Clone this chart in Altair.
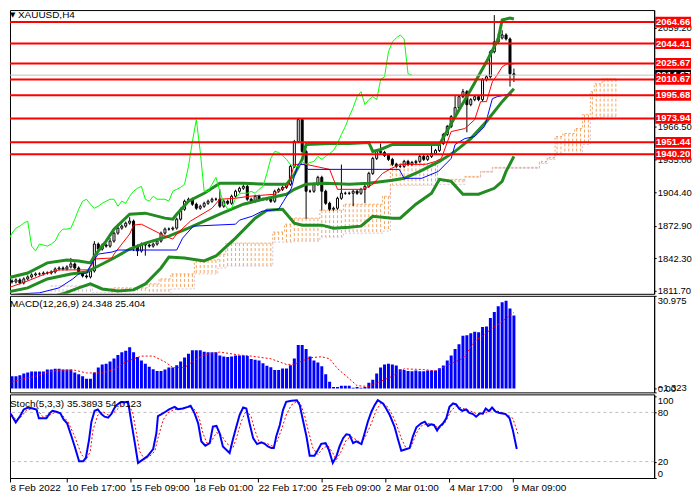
import altair as alt
import pandas as pd

# ---------------- axis / label data ----------------
date_ticks = [1.75, 16, 32, 48, 64, 80, 96, 112, 128]
date_labels = ["8 Feb 2022", "10 Feb 17:00", "15 Feb 09:00", "18 Feb 01:00", "22 Feb 17:00",
               "25 Feb 09:00", "2 Mar 01:00", "4 Mar 17:00", "9 Mar 09:00"]
price_ticks = [2059.20, 1966.50, 1935.00, 1904.40, 1872.90, 1842.30, 1811.70]
levels = [2064.66, 2044.41, 2025.67, 2010.67, 1995.68, 1973.94, 1951.44, 1940.20]
bid_price = 2014.67

# ---------------- candles (H4 bars, index 0..129) ----------------
closes = [
    1821.0, 1820.1, 1822.0, 1819.2, 1822.9, 1824.8, 1826.7, 1827.6, 1827.6, 1828.5,
    1828.5, 1829.5, 1832.3, 1833.2, 1832.3, 1834.2, 1837.0, 1833.2, 1828.5, 1825.7,
    1824.8, 1830.4, 1855.7, 1851.0, 1854.8, 1853.8, 1858.5, 1866.0, 1870.7, 1872.6,
    1875.4, 1877.3, 1853.8, 1849.2, 1855.7, 1854.8, 1853.8, 1855.7, 1858.5, 1866.0,
    1869.8, 1869.8, 1870.7, 1879.1, 1888.5, 1896.0, 1897.9, 1893.2, 1889.4, 1891.3,
    1894.1, 1896.0, 1897.9, 1897.9, 1891.3, 1896.0, 1894.1, 1900.7, 1905.4, 1908.2,
    1910.0, 1897.9, 1896.0, 1900.7, 1897.9, 1897.9, 1897.9, 1896.0, 1905.4, 1907.2,
    1909.1, 1911.9, 1928.8, 1952.2, 1972.8, 1942.9, 1905.4, 1905.4, 1911.9, 1918.5,
    1905.4, 1894.1, 1888.5, 1889.4, 1898.8, 1903.5, 1903.5, 1903.5, 1905.4, 1903.5,
    1907.2, 1910.0, 1922.2, 1936.3, 1942.9, 1941.9, 1939.1, 1935.4, 1930.7, 1928.8,
    1928.8, 1933.5, 1930.7, 1932.5, 1933.5, 1938.2, 1935.4, 1938.2, 1941.0, 1943.8,
    1950.3, 1958.8, 1966.3, 1975.6, 1984.1, 1994.4, 1999.1, 1986.9, 1991.6, 1994.4,
    1991.6, 2010.3, 2013.1, 2036.6, 2045.9, 2049.7, 2052.5, 2048.7, 2015.9, 2014.7,
]
first_open = 1822.0
wick_default = 1.5
wick_up = {16: 5.6, 22: 2.8, 26: 3.0, 31: 3.7, 54: 9.4, 60: 2.0, 74: 1.7, 85: 27.0,
           95: 7.4, 108: 8.4, 114: 12.0, 116: 2.6, 124: 25.3, 125: 4.0, 126: 4.5, 129: 5.0}
wick_dn = {32: 4.6, 33: 4.7, 35: 10.0, 76: 26.0, 80: 18.0, 88: 12.0, 91: 13.0,
           117: 26.0, 128: 12.0, 129: 6.5}

# ---------------- Bollinger bands ----------------
bb_up_bar = [0, 5, 10, 15, 18, 21, 22, 25, 27, 31, 35, 40, 42, 43, 46, 50, 54, 60, 66, 71,
             73, 75, 76, 82, 87, 92, 93, 95, 98, 102, 110, 114, 118, 122, 125, 126, 128, 129]
bb_up = [1823.9, 1828.5, 1838.0, 1840.7, 1839.8, 1838.0, 1844.5, 1858.5, 1869.8, 1883.8,
         1884.8, 1880.1, 1879.1, 1883.8, 1896.0, 1903.5, 1912.9, 1912.9, 1911.9, 1911.9,
         1921.3, 1935.4, 1949.4, 1950.3, 1950.3, 1951.3, 1942.9, 1944.7, 1949.4, 1949.4,
         1949.4, 1975.6, 2001.0, 2027.2, 2048.7, 2066.5, 2068.4, 2067.5]
bb_mid_bar = [0, 5, 10, 16, 20, 22, 27, 31, 35, 41, 46, 54, 60, 65, 71, 73, 76, 81, 87, 92,
              98, 101, 105, 110, 114, 118, 122, 126, 129]
bb_mid = [1810.7, 1814.5, 1822.9, 1827.6, 1829.5, 1833.2, 1842.6, 1851.0, 1856.6, 1863.2,
          1870.7, 1883.8, 1893.2, 1897.9, 1902.6, 1907.2, 1911.9, 1912.9, 1911.9, 1912.9,
          1915.7, 1917.6, 1924.1, 1933.5, 1942.9, 1955.0, 1971.0, 1989.7, 2001.9]
bb_low_bar = [0, 7, 14, 18, 21, 24, 28, 32, 35, 39, 41, 45, 50, 53, 58, 63, 66, 70, 73, 75,
              80, 83, 87, 90, 93, 98, 100, 104, 108, 110, 113, 116, 120, 124, 126, 127, 129]
bb_low = [1797.6, 1802.3, 1808.9, 1814.5, 1818.2, 1813.5, 1811.6, 1812.6, 1818.2, 1833.2,
          1843.5, 1842.6, 1839.8, 1844.5, 1861.3, 1880.1, 1887.6, 1888.5, 1875.4, 1873.5,
          1873.5, 1870.7, 1871.6, 1872.6, 1881.9, 1880.1, 1880.1, 1893.2, 1903.5, 1916.6,
          1914.7, 1902.6, 1902.6, 1908.2, 1914.7, 1924.1, 1938.2]

# ---------------- Ichimoku ----------------
tenkan_bar = [0, 5, 10, 13, 20.5, 21.5, 22, 26.5, 27, 31, 32, 34, 40, 42, 43, 46.5, 52, 54, 58,
              61.5, 68, 69, 71.5, 73, 76, 82, 84, 90.5, 93, 95.5, 97.75, 100, 106.5, 109, 110.5,
              113, 116.5, 119, 120.5, 122, 123.5, 124.75, 126, 127.25, 129]
tenkan = [1814.5, 1821.0, 1828.5, 1831.4, 1831.4, 1837.0, 1841.7, 1842.6, 1846.3, 1865.1,
          1873.5, 1874.4, 1863.2, 1860.4, 1865.1, 1877.3, 1889.4, 1897.9, 1898.8, 1900.7,
          1902.6, 1905.4, 1911.0, 1930.7, 1930.7, 1926.0, 1907.2, 1907.2, 1911.9, 1922.2,
          1926.9, 1930.7, 1930.7, 1933.5, 1936.3, 1961.6, 1964.4, 1972.8, 1989.7, 1989.7,
          2008.4, 2015.0, 2022.5, 2025.3, 2025.3]
kijun_bar = [0, 3, 8, 13, 16.5, 18, 20.25, 20.5, 21.75, 23, 26.5, 28, 43, 44.5, 47.25, 58, 59,
             62.25, 64.75, 69, 70.25, 72.25, 73, 74, 75.5, 76.5, 99.75, 101, 105.5, 109.75, 113,
             114, 116.5, 119, 119.75, 121.5, 122.25, 123.5, 124.75, 127.25, 128.5]
kijun = [1807.9, 1808.9, 1809.8, 1814.5, 1822.9, 1827.6, 1828.5, 1832.3, 1839.8, 1846.3,
         1848.2, 1850.1, 1850.1, 1861.3, 1872.6, 1874.4, 1878.2, 1881.9, 1886.6, 1888.5,
         1896.0, 1908.2, 1919.4, 1930.7, 1930.7, 1926.0, 1926.0, 1917.6, 1917.6, 1924.1,
         1936.3, 1949.4, 1955.0, 1956.9, 1959.7, 1966.3, 1975.6, 1992.5, 1994.4, 1996.3, 1996.3]
chikou_shift = 26
cloud_start = [11, 22, 27, 36, 39, 42, 48, 54, 56, 68, 71, 73, 80, 86, 96, 98, 110, 117, 121,
               124, 136, 138, 140, 142, 145, 147, 149, 150, 152]
cloud_end = [21, 26, 35, 38, 41, 47, 53, 55, 67, 70, 72, 79, 85, 95, 97, 109, 116, 120, 123,
             135, 137, 139, 141, 144, 146, 148, 149, 151, 155]
span_a = [1806.0, 1807.9, 1814.5, 1818.2, 1822.9, 1827.6, 1840.7, 1846.3, 1856.6, 1867.0,
          1874.4, 1880.1, 1887.6, 1893.2, 1900.7, 1931.6, 1916.6, 1919.4, 1924.1, 1927.9,
          1933.5, 1937.2, 1956.9, 1959.7, 1964.4, 1977.5, 1999.1, 2006.6, 2011.3]
span_b = [1816.4, 1809.8, 1805.1, 1806.0, 1807.9, 1813.5, 1827.6, 1833.2, 1835.1, 1857.6,
          1857.6, 1858.5, 1862.3, 1866.0, 1867.9, 1911.0, 1911.9, 1918.5, 1923.2, 1926.9,
          1931.6, 1935.4, 1940.0, 1940.0, 1941.0, 1949.4, 1972.8, 1974.7, 1975.6]

# ---------------- MACD ----------------
macd = [
    4.06, 4.06, 4.06, 4.40, 4.96, 5.30, 5.64, 5.64, 5.64, 5.64,
    6.31, 6.31, 6.54, 6.54, 6.31, 6.31, 6.31, 5.30, 4.73, 4.06,
    3.27, 3.27, 5.30, 6.99, 8.00, 8.23, 9.02, 10.03, 11.16, 12.06,
    12.62, 13.75, 12.06, 10.48, 9.35, 8.23, 7.21, 6.42, 5.86, 5.86,
    6.31, 6.99, 6.99, 7.78, 9.02, 10.37, 11.61, 12.74, 12.74, 12.74,
    12.28, 12.06, 12.06, 12.06, 11.04, 10.71, 10.48, 10.71, 11.04, 11.04,
    11.04, 10.82, 9.80, 9.58, 9.35, 8.45, 7.55, 7.10, 6.20, 6.20,
    6.65, 6.65, 7.78, 10.03, 14.54, 14.54, 13.19, 10.71, 9.35, 8.68,
    7.44, 4.73, 2.25, 0.45, 0.45, 0.90, 0.90, 0.90, 0.23, 0.45,
    0.23, 0.45, 1.92, 2.93, 4.96, 6.99, 8.00, 8.23, 8.00, 7.66,
    6.42, 6.20, 5.86, 5.75, 5.97, 5.75, 5.75, 5.97, 5.97, 5.97,
    6.76, 7.66, 9.35, 11.04, 13.19, 14.76, 17.58, 17.81, 18.48, 18.93,
    18.82, 20.51, 20.74, 23.55, 25.58, 27.50, 28.85, 29.30, 26.71, 24.35,
]
signal_bar = [0, 3, 7, 10, 13, 17, 20, 24, 27, 30, 34, 37, 40, 42, 45, 47, 50, 54, 59, 62, 67,
              71, 73, 77, 80, 82, 84, 87, 89, 92, 94, 98, 101, 106, 109, 113, 116, 119, 123, 126, 129]
signal = [1.80, 2.93, 4.06, 5.41, 6.09, 6.09, 5.18, 5.18, 6.31, 8.90, 10.82, 10.82, 8.90, 6.99,
          6.99, 8.90, 11.16, 12.17, 11.16, 10.82, 9.92, 8.00, 8.11, 10.26, 10.59, 9.92, 6.65,
          3.27, 0.90, 0.68, 1.80, 4.06, 6.54, 6.31, 5.86, 8.34, 10.03, 15.67, 19.61, 22.43, 25.40]
macd_ticks = [30.975, 0, -1.323]

# ---------------- Stochastic ----------------
k_bar = [0, 1.3, 2.1, 3.2, 4.2, 5.2, 6.3, 7.5, 8.4, 9.0, 10.9, 11.7, 12.4, 13.4, 14.4, 15.2, 16.1,
         17.2, 18.0, 19.1, 20.1, 20.8, 21.6, 22.2, 23.0, 23.8, 24.7, 25.5, 26.4, 27.2, 27.9, 28.5,
         29.5, 30.5, 31.4, 32.2, 33.1, 33.9, 35.1, 36.4, 37.7, 38.5, 38.9, 39.7, 40.8, 41.7, 43.1,
         43.9, 45.2, 46.4, 47.1, 48.1, 49.0, 49.8, 50.8, 51.9, 52.7, 53.6, 54.4, 55.2, 56.9, 57.7,
         58.6, 59.4, 60.3, 61.1, 61.9, 62.8, 63.8, 64.9, 65.7, 66.5, 67.4, 68.0, 68.6, 69.5, 70.3,
         71.1, 72.4, 73.8, 74.5, 75.3, 76.2, 77.0, 78.2, 79.1, 79.9, 81.0, 81.8, 82.8, 83.7, 84.5,
         85.4, 86.2, 87.0, 87.9, 88.7, 90.0, 90.8, 91.6, 92.5, 93.3, 94.1, 95.4, 96.2, 97.1, 98.3,
         99.2, 100.0, 101.3, 102.1, 102.9, 103.8, 105.0, 105.9, 106.7, 107.5, 108.2, 109.0, 109.6,
         110.5, 111.3, 112.1, 113.0, 113.8, 114.5, 115.3, 116.3, 117.0, 118.0, 118.8, 119.7, 120.5,
         121.2, 122.0, 122.8, 123.7, 124.5, 125.4, 126.2, 127.2, 128.0, 129.0]
k_val = [88.9, 82.8, 76.8, 67.9, 74.8, 83.6, 86.0, 84.8, 83.6, 72.8, 72.8, 78.8, 82.0, 80.8, 78.8,
         71.5, 66.7, 50.6, 38.5, 20.4, 20.4, 24.4, 46.6, 68.7, 82.0, 83.6, 78.0, 74.8, 73.6, 78.0,
         84.8, 88.9, 92.5, 92.5, 92.9, 68.7, 42.5, 18.4, 22.4, 27.2, 35.3, 54.6, 75.6, 77.6, 80.8,
         83.6, 86.8, 84.0, 84.8, 86.8, 88.1, 78.8, 66.7, 44.6, 39.3, 42.5, 62.7, 63.5, 54.6, 38.5,
         30.5, 46.6, 62.7, 76.8, 86.0, 84.8, 66.7, 48.6, 41.3, 43.4, 41.7, 38.5, 36.5, 36.5, 50.6,
         64.7, 82.8, 92.9, 94.1, 94.9, 88.9, 70.7, 50.6, 27.2, 27.2, 34.5, 41.7, 42.5, 34.5, 18.4,
         26.4, 38.5, 48.6, 53.4, 52.6, 42.5, 44.6, 41.3, 54.6, 68.7, 80.8, 88.9, 94.9, 90.9, 84.8,
         76.8, 62.7, 46.6, 33.3, 35.3, 36.5, 50.6, 61.9, 66.7, 68.7, 63.5, 65.5, 64.7, 57.9, 62.7,
         66.7, 72.8, 86.8, 90.9, 89.7, 84.8, 82.0, 83.6, 79.6, 78.0, 74.8, 78.8, 78.8, 84.8, 81.6,
         86.0, 80.8, 79.6, 78.8, 78.0, 72.8, 58.7, 35.4]
d_bar = [0, 1.7, 3.3, 4.6, 5.9, 7.5, 8.8, 10.0, 11.7, 13.4, 14.6, 16.3, 18.0, 19.7, 20.9, 21.9,
         22.6, 23.8, 25.1, 26.4, 27.6, 28.9, 30.1, 31.4, 32.6, 33.5, 34.3, 35.6, 36.8, 38.1, 38.9,
         40.2, 41.4, 42.7, 44.4, 46.0, 47.3, 48.4, 49.4, 50.2, 51.2, 52.3, 53.6, 54.8, 56.1, 57.7,
         58.6, 59.8, 61.1, 62.3, 63.2, 64.4, 66.1, 67.8, 68.8, 69.9, 71.1, 72.4, 73.6, 74.6, 75.7,
         76.6, 77.8, 79.1, 80.3, 81.6, 82.8, 83.7, 84.9, 86.2, 87.4, 88.7, 90.0, 91.2, 92.5, 93.7,
         95.0, 96.2, 97.5, 98.7, 100.0, 101.3, 102.5, 103.8, 105.0, 106.7, 108.4, 109.6, 110.9,
         112.6, 113.8, 115.5, 117.2, 118.8, 120.5, 122.2, 123.8, 125.5, 126.8, 128.0, 129.3]
d_val = [87.3, 80.8, 70.7, 74.8, 82.8, 84.8, 82.0, 74.8, 76.8, 80.8, 78.0, 68.7, 50.6, 28.5, 22.4,
         32.5, 58.7, 76.8, 80.8, 76.8, 78.8, 84.8, 90.1, 91.7, 78.8, 54.6, 32.5, 22.4, 26.4, 32.5,
         48.6, 70.7, 79.6, 82.8, 84.8, 86.0, 86.8, 82.0, 70.7, 54.6, 42.5, 44.6, 55.4, 52.6, 42.5,
         36.5, 48.6, 68.7, 82.8, 74.8, 58.7, 42.5, 42.5, 38.5, 44.6, 58.7, 76.8, 88.9, 92.9, 91.7,
         76.8, 58.7, 36.5, 28.4, 36.5, 39.3, 30.5, 22.4, 32.5, 46.6, 50.6, 46.6, 42.5, 52.6, 66.7,
         82.8, 91.7, 88.9, 79.6, 66.7, 48.6, 35.3, 38.5, 54.6, 63.5, 66.7, 63.5, 60.7, 66.7, 82.8,
         87.7, 84.8, 82.0, 78.8, 78.0, 82.0, 82.0, 79.6, 76.8, 72.8, 54.0]
stoch_levels = [20, 80]
stoch_ticks = [0, 20, 80, 100]

# ---------------- tables ----------------
n = len(closes)
bars = list(range(n))
opens = [first_open] + closes[:-1]
highs = [max(o, c) + wick_up.get(i, wick_default) for i, (o, c) in enumerate(zip(opens, closes))]
lows = [min(o, c) - wick_dn.get(i, wick_default) for i, (o, c) in enumerate(zip(opens, closes))]
candles = pd.DataFrame({"bar": bars, "open": opens, "close": closes, "high": highs, "low": lows})

hatch_rows = []
for s, e, a, b in zip(cloud_start, cloud_end, span_a, span_b):
    for i in range(s, e + 1):
        hatch_rows.append({"bar": i, "a": a, "b": b, "kind": "A" if a >= b else "B"})
cloud = pd.DataFrame(hatch_rows)

chikou = pd.DataFrame({"bar": [b - chikou_shift for b in bars[chikou_shift:]],
                       "price": closes[chikou_shift:]})

def line_df(xs, ys):
    return pd.DataFrame({"bar": xs, "price": ys})

lev_df = pd.DataFrame({"price": levels, "label": [f"{v:.2f}" for v in levels]})
bid_df = pd.DataFrame({"price": [bid_price], "label": [f"{bid_price:.2f}"]})
one = pd.DataFrame({"k": [0]})

FONT = "Liberation Sans"
W = 647
LBL_X = 666
xscale = alt.Scale(domain=[1.75, 163.5], nice=False, zero=False)
yscale_main = alt.Scale(domain=[1808.9, 2075.9], nice=False, zero=False)

main_axis = alt.Axis(orient="right", values=price_ticks, format=".2f", labelFlush=False,
                     tickSize=2, labelPadding=1, title=None, grid=False, labelOverlap=False,
                     labelFontSize=9.5)

def X(field="bar"):
    return alt.X(f"{field}:Q", scale=xscale, axis=None)

def Ym(field):
    return alt.Y(f"{field}:Q", scale=yscale_main, axis=main_axis)

# cloud hatch
hatch = alt.Chart(cloud).mark_rule(strokeDash=[3, 2], strokeWidth=1, clip=True).encode(
    x=X(), y=Ym("a"), y2="b:Q",
    color=alt.Color("kind:N", scale=alt.Scale(domain=["A", "B"], range=["#F4A460", "#D8BFD8"]),
                    legend=None))
line_a = alt.Chart(cloud).mark_line(interpolate="step", strokeDash=[2, 2], strokeWidth=1,
                                    color="#F4A460", clip=True).encode(x=X(), y=Ym("a"))
line_b = alt.Chart(cloud).mark_line(interpolate="step", strokeDash=[2, 2], strokeWidth=1,
                                    color="#D8BFD8", clip=True).encode(x=X(), y=Ym("b"))

wicks = alt.Chart(candles).mark_rule(color="black", strokeWidth=1, clip=True).encode(
    x=X(), y=Ym("low"), y2="high:Q")
bodies = alt.Chart(candles).mark_bar(size=2, stroke="black", strokeWidth=1, clip=True).encode(
    x=X(), y=Ym("open"), y2="close:Q",
    fill=alt.condition("datum.close >= datum.open", alt.value("white"), alt.value("black")))

def ind_line(df, color, width):
    return alt.Chart(df).mark_line(color=color, strokeWidth=width, clip=True).encode(
        x=X(), y=Ym("price"))

bbu = ind_line(line_df(bb_up_bar, bb_up), "#228B22", 3)
bbm = ind_line(line_df(bb_mid_bar, bb_mid), "#228B22", 3)
bbl = ind_line(line_df(bb_low_bar, bb_low), "#228B22", 3)
tk = ind_line(line_df(tenkan_bar, tenkan), "#FF0000", 1)
kj = ind_line(line_df(kijun_bar, kijun), "#0000FF", 1)
ch = ind_line(chikou, "#00FF00", 1)

bid_line = alt.Chart(bid_df).mark_rule(color="#C0C0C0", strokeWidth=1).encode(y=Ym("price"))
lev_lines = alt.Chart(lev_df).mark_rule(color="#FF0000", strokeWidth=2).encode(y=Ym("price"))

BOX = "M-1,-0.3L1,-0.3L1,0.3L-1,0.3Z"
BOX_SIZE = 36 * 36
bid_box = alt.Chart(bid_df).mark_point(shape=BOX, size=BOX_SIZE, filled=True, opacity=1,
                                       color="black", strokeWidth=0).encode(
    x=alt.value(LBL_X), y=Ym("price"))
bid_txt = alt.Chart(bid_df).mark_text(color="white", font=FONT, fontSize=9.5, fontWeight="bold").encode(
    x=alt.value(LBL_X), y=Ym("price"), text="label:N")
lev_box = alt.Chart(lev_df).mark_point(shape=BOX, size=BOX_SIZE, filled=True, opacity=1,
                                       color="#FF0000", strokeWidth=0).encode(
    x=alt.value(LBL_X), y=Ym("price"))
lev_txt = alt.Chart(lev_df).mark_text(color="white", font=FONT, fontSize=9.5, fontWeight="bold").encode(
    x=alt.value(LBL_X), y=Ym("price"), text="label:N")

tri = alt.Chart(one).mark_text(text="\u25BC", font="DejaVu Sans", fontSize=7, align="left",
                               color="black").encode(x=alt.value(0), y=alt.value(5))
title = alt.Chart(one).mark_text(text="XAUUSD,H4", font=FONT, fontSize=10, align="left",
                                 color="black").encode(x=alt.value(8), y=alt.value(5))

main = alt.layer(hatch, line_a, line_b, wicks, bodies, bbu, bbm, bbl, tk, kj, ch,
                 bid_line, lev_lines, bid_box, bid_txt, lev_box, lev_txt, tri, title
                 ).properties(width=W, height=285)

# MACD panel
yscale_macd = alt.Scale(domain=[-1.323, 30.975], nice=False, zero=False)
macd_axis = alt.Axis(orient="right", values=macd_ticks, labelFlush=True, tickSize=2,
                     labelPadding=1, title=None, grid=False, labelOverlap=False, labelFontSize=9.5,
                     labelExpr="datum.value == 0 ? '0.00' : format(datum.value, '.3f')")
macd_df = pd.DataFrame({"bar": bars, "macd": macd})
macd_bars = alt.Chart(macd_df).mark_bar(size=3, color="#0000FF", clip=True).encode(
    x=X(), y=alt.Y("macd:Q", scale=yscale_macd, axis=macd_axis), y2=alt.datum(0))
sig = alt.Chart(pd.DataFrame({"bar": signal_bar, "macd": signal})).mark_line(
    color="#FF0000", strokeDash=[2, 2], strokeWidth=1, clip=True).encode(
    x=X(), y=alt.Y("macd:Q", scale=yscale_macd, axis=macd_axis))
macd_txt = alt.Chart(one).mark_text(text="MACD(12,26,9) 24.348 25.404", font=FONT, fontSize=10,
                                    align="left", color="black").encode(
    x=alt.value(0), y=alt.value(8))
macd_panel = alt.layer(macd_bars, sig, macd_txt).properties(width=W, height=97)

# Stochastic panel
yscale_st = alt.Scale(domain=[0, 102], nice=False, zero=False)
st_axis = alt.Axis(orient="right", values=stoch_ticks, labelFlush=10, tickSize=2,
                   labelPadding=1, title=None, grid=False, labelOverlap=False, labelFontSize=9.5)
x_axis = alt.Axis(values=date_ticks, labelAlign="left", labelFlush=False, labelOverlap=False,
                  labelBound=False, tickSize=4, labelPadding=1, title=None, grid=False,
                  labelFontSize=10,
                  labelExpr="[" + ",".join(f"'{s}'" for s in date_labels) + "][round(datum.value/16)]")
st_lv = alt.Chart(pd.DataFrame({"v": stoch_levels})).mark_rule(
    color="#C0C0C0", strokeDash=[3, 3], strokeWidth=1).encode(
    y=alt.Y("v:Q", scale=yscale_st, axis=st_axis))
d_line = alt.Chart(pd.DataFrame({"bar": d_bar, "v": d_val})).mark_line(
    color="#FF0000", strokeDash=[2, 2], strokeWidth=1, clip=True).encode(
    x=alt.X("bar:Q", scale=xscale, axis=x_axis), y=alt.Y("v:Q", scale=yscale_st, axis=st_axis))
k_line = alt.Chart(pd.DataFrame({"bar": k_bar, "v": k_val})).mark_line(
    color="#0000FF", strokeWidth=2, clip=True).encode(
    x=alt.X("bar:Q", scale=xscale, axis=x_axis), y=alt.Y("v:Q", scale=yscale_st, axis=st_axis))
st_txt = alt.Chart(one).mark_text(text="Stoch(5,3,3) 35.3893 54.0123", font=FONT, fontSize=10,
                                  align="left", color="black").encode(
    x=alt.value(0), y=alt.value(10))
stoch_panel = alt.layer(st_lv, d_line, k_line, st_txt).properties(width=W, height=84)

chart = alt.vconcat(main, macd_panel, stoch_panel, spacing=2, bounds="flush").properties(
    padding=0, background="white"
).configure_view(stroke="black", strokeWidth=1).configure_axis(
    labelFont=FONT, labelColor="black", tickColor="black",
    domainColor="black", grid=False)

chart.save("out.html", embed_options={"renderer": "svg", "actions": False})
